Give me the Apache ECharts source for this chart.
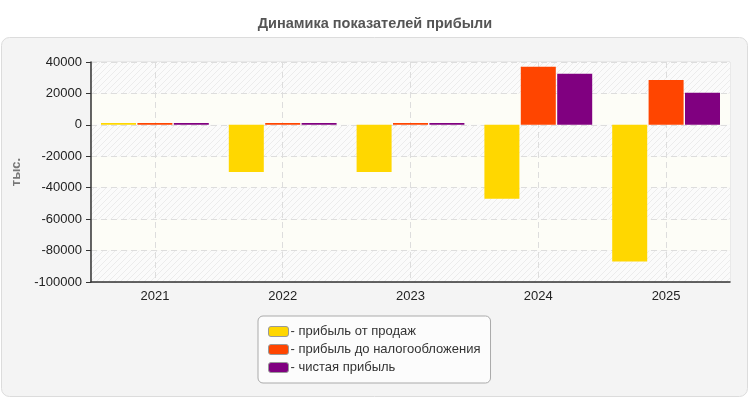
<!DOCTYPE html>
<html>
<head>
<meta charset="utf-8">
<script src="https://cdn.jsdelivr.net/npm/echarts@6/dist/echarts.min.js"></script>
<style>
html, body { margin: 0; padding: 0; background: #fff; }
#chart { width: 750px; height: 400px; }
</style>
</head>
<body>
<div id="chart"></div>
<script>
var years = ['2021', '2022', '2023', '2024', '2025'];
var salesProfit = [1200, -30000, -30000, -47000, -87000];
var pretaxProfit = [1200, 1200, 1200, 37000, 28500];
var netProfit = [1200, 1200, 1200, 32500, 20500];
var seriesNames = ['прибыль от продаж', 'прибыль до налогообложения', 'чистая прибыль'];
var seriesColors = ['#FFD700', '#FF4500', '#800080'];

// штриховка фона
function makeHatch() {
    var c = document.createElement('canvas');
    c.width = 6; c.height = 6;
    var ctx = c.getContext('2d');
    ctx.fillStyle = '#fbfbfb';
    ctx.fillRect(0, 0, 6, 6);
    ctx.strokeStyle = '#ececec';
    ctx.lineWidth = 1;
    ctx.beginPath();
    ctx.moveTo(0, 6); ctx.lineTo(6, 0);
    ctx.moveTo(-1, 1); ctx.lineTo(1, -1);
    ctx.moveTo(5, 7); ctx.lineTo(7, 5);
    ctx.stroke();
    return c;
}

var chart = echarts.init(document.getElementById('chart'));
var font = 'Arial, "Liberation Sans", sans-serif';

function bar(i, data) {
    return {
        name: seriesNames[i],
        type: 'bar',
        data: data,
        barWidth: 35,
        barGap: '4%',
        itemStyle: { color: seriesColors[i] }
    };
}

chart.setOption({
    animation: false,
    textStyle: { fontFamily: font },
    title: {
        text: 'Динамика показателей прибыли',
        left: 'center',
        top: 11,
        textStyle: { fontSize: 14.5, fontWeight: 'bold', color: '#555', fontFamily: font }
    },
    graphic: [{
        type: 'rect',
        z: -10,
        silent: true,
        shape: { x: 1.5, y: 37.5, width: 746, height: 359, r: 8 },
        style: { fill: '#f4f4f4', stroke: '#dcdcdc', lineWidth: 1 }
    }],
    legend: {
        orient: 'vertical',
        left: 258,
        top: 316,
        padding: [9, 10, 9, 10],
        itemGap: 5,
        itemWidth: 20,
        itemHeight: 10,
        icon: 'roundRect',
        backgroundColor: '#fcfcfc',
        borderColor: '#aaa',
        borderWidth: 1,
        borderRadius: 5,
        itemStyle: { borderColor: '#999', borderWidth: 1 },
        formatter: '- {name}',
        textStyle: { fontSize: 13, color: '#333', padding: [0, 0, 0, -3] },
        data: seriesNames
    },
    grid: {
        left: 91,
        right: 20,
        top: 62,
        bottom: 118,
        show: true,
        borderColor: '#ddd',
        borderWidth: 1,
        backgroundColor: 'transparent'
    },
    xAxis: {
        type: 'category',
        data: years,
        axisLine: { onZero: false, lineStyle: { color: '#333', width: 1.5 } },
        axisTick: { alignWithLabel: true, length: 5, lineStyle: { color: '#333' } },
        axisLabel: { fontSize: 13, color: '#222', margin: 8 },
        splitLine: { show: true, alignWithLabel: true, lineStyle: { color: '#ddd', type: [6, 4] } }
    },
    yAxis: {
        type: 'value',
        min: -100000,
        max: 40000,
        interval: 20000,
        name: 'тыс.',
        nameLocation: 'middle',
        nameGap: 63,
        nameTextStyle: { fontSize: 13, fontWeight: 'bold', color: '#777' },
        axisLine: { show: true, lineStyle: { color: '#333', width: 1.5 } },
        axisTick: { show: true, length: 5, lineStyle: { color: '#333' } },
        axisLabel: {
            fontSize: 13, color: '#222', margin: 9,
            formatter: function (v) { return String(v); }
        },
        splitLine: { lineStyle: { color: '#ddd', type: [6, 4] } },
        splitArea: {
            show: true,
            areaStyle: { color: [{ image: makeHatch(), repeat: 'repeat' }, '#fdfdf7'] }
        }
    },
    series: [
        bar(0, salesProfit),
        bar(1, pretaxProfit),
        bar(2, netProfit)
    ]
});
</script>
</body>
</html>
